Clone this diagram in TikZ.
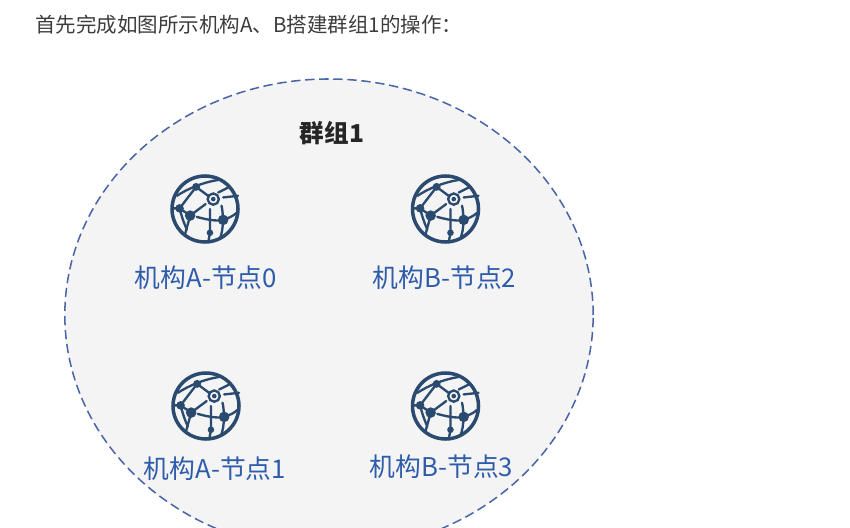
\documentclass[tikz,border=0pt]{standalone}
\usepackage{fontspec}
\setmainfont{Noto Sans CJK SC}
\usepackage{xcolor}
\usetikzlibrary{positioning,shapes.geometric}
\definecolor{groupline}{HTML}{4A66A8}
\definecolor{groupfill}{HTML}{F4F4F4}
\definecolor{globeblue}{HTML}{2B4A6F}
\definecolor{labelblue}{HTML}{2F5CAA}
\definecolor{headgray}{HTML}{3C3C3C}
\tikzset{
  globeline/.style={draw=globeblue, line width=2pt, line cap=round, x=0.99cm, y=0.99cm},
  globedot/.style={fill=globeblue, x=0.99cm, y=0.99cm},
  nodelabel/.style={font=\fontsize{22}{24}\selectfont, text=labelblue, inner sep=0pt},
  pics/globe/.style={code={
    \node[circle, draw=globeblue, line width=3pt, minimum size=1.98cm, inner sep=0pt] (-core) at (0,0) {};
    \draw[globeline] (-0.85,0.40) .. controls (-0.55,0.60) and (-0.10,0.80) .. (0.40,0.88);
    \draw[globeline] (-0.77,0.02) -- (-0.27,0.67) -- (0.12,0.38);
    \draw[globeline] (-0.95,0.02) -- (-0.77,0.02) -- (-0.45,-0.20) -- (0.02,0.15);
    \draw[globeline] (-0.77,0.02) .. controls (-0.70,-0.25) and (-0.65,-0.40) .. (-0.55,-0.62);
    \draw[globeline] (-0.45,-0.20) .. controls (-0.50,-0.40) and (-0.55,-0.55) .. (-0.60,-0.75);
    \draw[globeline] (-0.25,-0.24) .. controls (0.05,-0.32) and (0.35,-0.38) .. (0.55,-0.33) .. controls (0.70,-0.28) and (0.85,-0.22) .. (0.95,-0.12);
    \draw[globeline] (0.15,0.00) -- (0.15,-0.72) -- (0.10,-1.00);
    \draw[globeline] (0.50,0.10) .. controls (0.55,-0.10) and (0.58,-0.60) .. (0.45,-0.90);
    \draw[globeline] (0.55,0.35) -- (1.00,0.40);
    \draw[globeline] (0.40,0.50) -- (0.70,0.65);
    \draw[globeline] (0.25,0.30) circle[radius=0.17];
    \fill[globedot] (0.25,0.30) circle[radius=0.07];
    \fill[globedot] (-0.27,0.67) circle[radius=0.12];
    \fill[globedot] (-0.77,0.02) circle[radius=0.13];
    \fill[globedot] (-0.45,-0.20) circle[radius=0.16];
    \fill[globedot] (0.55,-0.33) circle[radius=0.16];
    \fill[globedot] (0.15,-0.72) circle[radius=0.10];
  }}
}

\begin{document}
\begin{tikzpicture}[x=0.03cm, y=0.03cm, node distance=0.55cm]
\useasboundingbox (0,0) rectangle (850,527);
\clip (0,0) rectangle (850,527);
\node[ellipse, draw=groupline, fill=groupfill, line width=1.3pt, dash pattern=on 8pt off 4pt, minimum width=15.85cm, minimum height=14.16cm, inner sep=0pt] (group1) at (329,212) {};
\node[anchor=west, inner sep=0pt, text=headgray, font=\fontsize{17.5}{20}\selectfont] (intro) at (35,502) {首先完成如图所示机构A、B搭建群组1的操作：};
\node[inner sep=0pt, text=black!85, font=\fontsize{21}{23}\selectfont\bfseries] (title) at (332,394) {群组1};
\pic (icon0) at (205,318) {globe};
\pic (icon1) at (206,121) {globe};
\pic (icon2) at (445.5,318) {globe};
\pic (icon3) at (445.5,121) {globe};
\node[nodelabel, below=0.65cm of icon0-core, xshift=0.03cm] (label0) {机构A-节点0};
\node[nodelabel, below=0.65cm of icon2-core, xshift=-0.03cm] (label2) {机构B-节点2};
\node[nodelabel, below=0.48cm of icon1-core, xshift=0.27cm] (label1) {机构A-节点1};
\node[nodelabel, below=0.42cm of icon3-core, xshift=-0.12cm] (label3) {机构B-节点3};
\end{tikzpicture}
\end{document}
